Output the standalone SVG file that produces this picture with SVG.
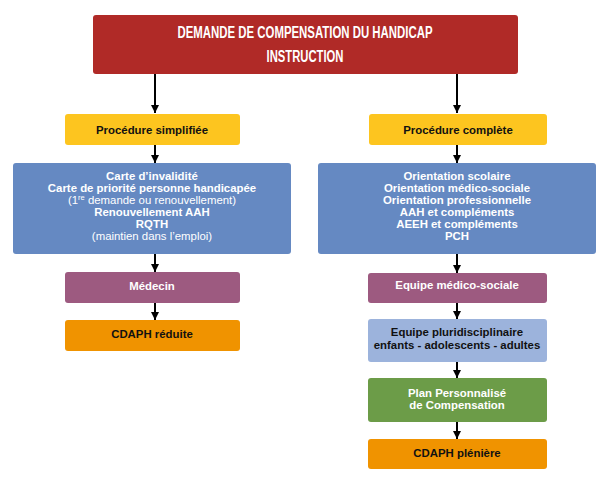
<svg xmlns="http://www.w3.org/2000/svg" width="610" height="484" viewBox="0 0 610 484">
<defs>
<marker id="ah" viewBox="0 0 10 10" refX="10" refY="5" markerWidth="10" markerHeight="8" markerUnits="userSpaceOnUse" orient="auto"><path d="M0,0 L10,5 L0,10 z" fill="#000"/></marker>
<style>
text{font-family:"Liberation Sans",Arial,sans-serif;text-anchor:middle;font-weight:bold}
.t{font-size:16px;fill:#fff}
.b{font-size:11.4px;fill:#111}
.w{font-size:11.4px;fill:#fff}
.n{font-weight:normal}
.red{fill:#B02A27}.yel{fill:#FDC51F}.blu{fill:#6589C2}.pur{fill:#9D5A80}.ora{fill:#F09300}.lbl{fill:#9CB3DC}.grn{fill:#6C9C48}
line{stroke:#000;stroke-width:2}
</style>
</defs>
<g id="connectors">
<line x1="155" y1="74" x2="155" y2="113" marker-end="url(#ah)"/>
<line x1="457" y1="74" x2="457" y2="113" marker-end="url(#ah)"/>
<line x1="155" y1="145" x2="155" y2="163" marker-end="url(#ah)"/>
<line x1="457" y1="145" x2="457" y2="163" marker-end="url(#ah)"/>
<line x1="155" y1="254" x2="155" y2="272" marker-end="url(#ah)"/>
<line x1="457" y1="254" x2="457" y2="273" marker-end="url(#ah)"/>
<line x1="155" y1="303" x2="155" y2="320" marker-end="url(#ah)"/>
<line x1="457" y1="303" x2="457" y2="319" marker-end="url(#ah)"/>
<line x1="457" y1="362" x2="457" y2="378" marker-end="url(#ah)"/>
<line x1="457" y1="422" x2="457" y2="439" marker-end="url(#ah)"/>
</g>
<g id="n-demande"><rect class="red" x="93" y="15" width="425" height="59" rx="3"/><text class="t" x="305" y="38" textLength="255" lengthAdjust="spacingAndGlyphs">DEMANDE DE COMPENSATION DU HANDICAP</text><text class="t" x="305" y="62" textLength="77" lengthAdjust="spacingAndGlyphs">INSTRUCTION</text></g>
<g id="n-simplifiee"><rect class="yel" x="65" y="114" width="175" height="31" rx="3"/><text class="b" x="152" y="134">Procédure simplifiée</text></g>
<g id="n-complete"><rect class="yel" x="369" y="114" width="178" height="31" rx="3"/><text class="b" x="458" y="134">Procédure complète</text></g>
<g id="n-cartes"><rect class="blu" x="13" y="163" width="278" height="91" rx="3"/>
<text class="w" x="152" y="180">Carte d’invalidité</text>
<text class="w" x="152" y="192">Carte de priorité personne handicapée</text>
<text class="w n" x="152" y="204">(1<tspan font-size="7.5" dy="-4">re</tspan><tspan dy="4"> demande ou renouvellement)</tspan></text>
<text class="w" x="152" y="216">Renouvellement AAH</text>
<text class="w" x="152" y="228">RQTH</text>
<text class="w n" x="152" y="240">(maintien dans l’emploi)</text></g>
<g id="n-orientations"><rect class="blu" x="318" y="163" width="278" height="91" rx="3"/>
<text class="w" x="457" y="180">Orientation scolaire</text>
<text class="w" x="457" y="192">Orientation médico-sociale</text>
<text class="w" x="457" y="204">Orientation professionnelle</text>
<text class="w" x="457" y="216">AAH et compléments</text>
<text class="w" x="457" y="228">AEEH et compléments</text>
<text class="w" x="457" y="240">PCH</text></g>
<g id="n-medecin"><rect class="pur" x="65" y="272" width="175" height="31" rx="3"/><text class="w" x="152" y="290">Médecin</text></g>
<g id="n-cdaph-reduite"><rect class="ora" x="65" y="320" width="175" height="31" rx="3"/><text class="b" x="152" y="338">CDAPH réduite</text></g>
<g id="n-equipe-ms"><rect class="pur" x="368" y="273" width="179" height="30" rx="3"/><text class="w" x="457" y="289">Equipe médico-sociale</text></g>
<g id="n-equipe-pluri"><rect class="lbl" x="368" y="319" width="179" height="43" rx="3"/><text class="b" x="457" y="336">Equipe pluridisciplinaire</text><text class="b" x="457" y="349">enfants - adolescents - adultes</text></g>
<g id="n-ppc"><rect class="grn" x="368" y="378" width="179" height="44" rx="3"/><text class="w" x="457" y="397">Plan Personnalisé</text><text class="w" x="457" y="409">de Compensation</text></g>
<g id="n-cdaph-pleniere"><rect class="ora" x="368" y="439" width="179" height="30" rx="3"/><text class="b" x="457" y="457">CDAPH plénière</text></g>
</svg>
